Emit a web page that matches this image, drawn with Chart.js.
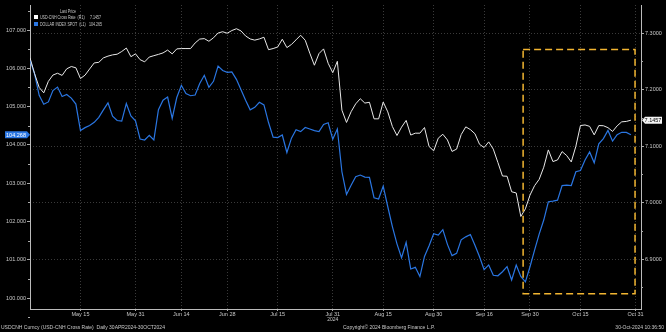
<!DOCTYPE html>
<html>
<head>
<meta charset="utf-8">
<script src="https://cdn.jsdelivr.net/npm/chart.js@4.4.0/dist/chart.umd.min.js"></script>
<style>
  html, body { margin: 0; padding: 0; background: #000; }
</style>
</head>
<body>
<canvas id="chart" width="666" height="332"></canvas>
<script>
// Daily closes, one per business day from 30 Apr 2024 to 30 Oct 2024
const usdCnh = [
  7.2560, 7.2281, 7.2037, 7.1941, 7.2144, 7.2256, 7.2288, 7.2250, 7.2366, 7.2407,
  7.2385, 7.2195, 7.2254, 7.2364, 7.2471, 7.2481, 7.2560, 7.2591, 7.2613, 7.2625,
  7.2673, 7.2734, 7.2581, 7.2631, 7.2528, 7.2490, 7.2575, 7.2599, 7.2622, 7.2648,
  7.2698, 7.2631, 7.2719, 7.2725, 7.2725, 7.2725, 7.2824, 7.2893, 7.2901, 7.2854,
  7.2915, 7.3000, 7.3023, 7.2996, 7.3044, 7.3076, 7.3037, 7.2948, 7.2895, 7.2874,
  7.2895, 7.2925, 7.2705, 7.2725, 7.2753, 7.2890, 7.2742, 7.2798, 7.2879, 7.2961,
  7.2872, 7.2643, 7.2430, 7.2636, 7.2719, 7.2464, 7.2298, 7.2499, 7.1634, 7.1417,
  7.1607, 7.1746, 7.1837, 7.1760, 7.1774, 7.1481, 7.1481, 7.1778, 7.1604, 7.1345,
  7.1186, 7.1334, 7.1453, 7.1194, 7.1227, 7.1227, 7.1327, 7.0991, 7.0915, 7.1139,
  7.1208, 7.1107, 7.0904, 7.0945, 7.1202, 7.1339, 7.1291, 7.1217, 7.1030, 7.0973,
  7.1073, 7.0945, 7.0709, 7.0469, 7.0465, 7.0190, 7.0169, 6.9753, 6.9888, 7.0131,
  7.0298, 7.0410, 7.0625, 7.0931, 7.0725, 7.0753, 7.0901, 7.0831, 7.0718, 7.0996,
  7.1362, 7.1373, 7.1348, 7.1197, 7.1362, 7.1359, 7.1325, 7.1258, 7.1357, 7.1428,
  7.1435, 7.1457
];
const dxy = [
  106.217, 105.856, 105.295, 105.060, 105.122, 105.417, 105.509, 105.263, 105.318, 105.222,
  105.065, 104.373, 104.451, 104.508, 104.589, 104.720, 104.916, 105.099, 104.751, 104.636,
  104.623, 105.083, 104.757, 104.629, 104.153, 104.127, 104.247, 104.127, 104.921, 105.169,
  105.248, 104.694, 105.237, 105.556, 105.339, 105.284, 105.302, 105.603, 105.817, 105.504,
  105.660, 106.060, 105.942, 105.893, 105.908, 105.712, 105.438, 105.167, 104.916, 104.981,
  105.114, 105.044, 104.584, 104.203, 104.190, 104.258, 103.801, 104.177, 104.394, 104.347,
  104.456, 104.414, 104.373, 104.347, 104.535, 104.579, 104.148, 104.417, 103.299, 102.706,
  102.947, 103.171, 103.213, 103.158, 103.153, 102.620, 102.586, 102.923, 102.385, 101.866,
  101.416, 101.053, 101.455, 100.758, 100.803, 100.562, 101.087, 101.367, 101.680, 101.646,
  101.787, 101.403, 101.108, 101.168, 101.521, 101.599, 101.659, 101.380, 101.079, 100.740,
  100.865, 100.596, 100.583, 100.688, 100.823, 100.471, 100.863, 100.565, 100.424, 100.818,
  101.254, 101.672, 102.038, 102.516, 102.534, 102.558, 102.939, 102.952, 102.939, 103.299,
  103.331, 103.605, 103.816, 103.532, 104.028, 104.166, 104.378, 104.098, 104.268, 104.328,
  104.326, 104.265
];
const tickDates = ['2024-05-15', '2024-05-31', '2024-06-14', '2024-06-28', '2024-07-15', '2024-07-31',
                   '2024-08-15', '2024-08-30', '2024-09-16', '2024-09-30', '2024-10-15', '2024-10-31'];
const tickLabels = ['May 15', 'May 31', 'Jun 14', 'Jun 28', 'Jul 15', 'Jul 31',
                    'Aug 15', 'Aug 30', 'Sep 16', 'Sep 30', 'Oct 15', 'Oct 31'];
const leftTicks = [100, 101, 102, 103, 104, 105, 106, 107];
const rightTicks = [6.9, 7.0, 7.1, 7.2, 7.3];
const dxyTag = 104.268;

const FONT = '"Liberation Sans", Arial, sans-serif';
const TXT = '#c8c8c8';
const BLUE = '#2a76e2';

// weekdays counted from the first session (30 Apr 2024)
function businessDayIndex(iso) {
  const d = new Date('2024-04-30T00:00:00Z');
  const end = new Date(iso + 'T00:00:00Z');
  let n = 0;
  while (d < end) {
    const wd = d.getUTCDay();
    if (wd !== 0 && wd !== 6) n++;
    d.setUTCDate(d.getUTCDate() + 1);
  }
  return n;
}

// narrow text, like the terminal's condensed legend font
function narrowText(ctx, text, x, y, align) {
  ctx.save();
  ctx.translate(x, y);
  ctx.scale(0.72, 1);
  ctx.textAlign = align;
  ctx.fillText(text, 0, 0);
  ctx.restore();
}

const overlay = {
  id: 'overlay',
  beforeDraw(chart) {
    const ctx = chart.ctx;
    ctx.save();
    ctx.fillStyle = '#000';
    ctx.fillRect(0, 0, chart.width, chart.height);
    ctx.restore();
  },
  afterDraw(chart) {
    const ctx = chart.ctx;
    const { x, yL, yR } = chart.scales;
    const area = chart.chartArea;
    ctx.save();

    // minor ticks on both value axes
    ctx.strokeStyle = '#aaa';
    ctx.lineWidth = 1;
    ctx.beginPath();
    for (let v = 99.5; v < yL.max; v += 1) {
      const py = Math.round(yL.getPixelForValue(v)) + 0.5;
      ctx.moveTo(area.left - 2, py); ctx.lineTo(area.left, py);
    }
    for (let v = 6.85; v < yR.max; v += 0.1) {
      const py = Math.round(yR.getPixelForValue(v)) + 0.5;
      ctx.moveTo(area.right, py); ctx.lineTo(area.right + 2, py);
    }
    ctx.stroke();

    // highlighted window (late Sep to end of Oct)
    ctx.strokeStyle = '#f2b531';
    ctx.lineWidth = 1.5;
    ctx.setLineDash([7, 4]);
    const bx1 = x.getPixelForValue(107.5), bx2 = x.getPixelForValue(131.9);
    const by1 = yR.getPixelForValue(7.2707), by2 = yR.getPixelForValue(6.8385);
    ctx.strokeRect(bx1, by1, bx2 - bx1, by2 - by1);
    ctx.setLineDash([]);

    // legend
    ctx.font = '5px ' + FONT;
    ctx.textBaseline = 'middle';
    ctx.fillStyle = TXT;
    narrowText(ctx, 'Last Price', 68, 12, 'center');
    ctx.fillStyle = '#fff';
    ctx.fillRect(34, 15, 4, 4);
    ctx.fillStyle = BLUE;
    ctx.fillRect(34, 22, 4, 4);
    ctx.fillStyle = TXT;
    narrowText(ctx, 'USD-CNH Cross Rate  (R1)', 40, 17.5, 'left');
    narrowText(ctx, 'DOLLAR INDEX SPOT  (L1)', 40, 24.5, 'left');
    narrowText(ctx, usdCnh[usdCnh.length - 1].toFixed(4), 101, 17.5, 'right');
    narrowText(ctx, dxy[dxy.length - 1].toFixed(3), 102, 24.5, 'right');

    // last-price tags on the axes
    ctx.font = '5.5px ' + FONT;
    const ly = yL.getPixelForValue(dxyTag);
    ctx.fillStyle = BLUE;
    ctx.beginPath();
    ctx.moveTo(5, ly - 3.5); ctx.lineTo(27, ly - 3.5); ctx.lineTo(30, ly);
    ctx.lineTo(27, ly + 3.5); ctx.lineTo(5, ly + 3.5); ctx.closePath();
    ctx.fill();
    ctx.fillStyle = '#fff';
    ctx.textAlign = 'center';
    ctx.fillText(dxyTag.toFixed(3), 16, ly + 0.5);

    const ry = yR.getPixelForValue(usdCnh[usdCnh.length - 1]);
    ctx.fillStyle = '#f4f4f4';
    ctx.beginPath();
    ctx.moveTo(area.right + 1, ry); ctx.lineTo(area.right + 4, ry - 3.5); ctx.lineTo(662, ry - 3.5);
    ctx.lineTo(662, ry + 3.5); ctx.lineTo(area.right + 4, ry + 3.5); ctx.closePath();
    ctx.fill();
    ctx.fillStyle = '#000';
    ctx.fillText(usdCnh[usdCnh.length - 1].toFixed(4), 653, ry + 0.5);

    // year under the axis and footer line
    ctx.fillStyle = TXT;
    ctx.font = '5px ' + FONT;
    ctx.fillText('2024', x.getPixelForValue(businessDayIndex('2024-07-31')), 320);
    ctx.textAlign = 'left';
    ctx.fillText('USDCNH Curncy (USD-CNH Cross Rate)  Daily 30APR2024-30OCT2024', 1, 328);
    ctx.textAlign = 'center';
    ctx.fillText('Copyright\u00a9 2024 Bloomberg Finance L.P.', 389, 328);
    ctx.textAlign = 'right';
    ctx.fillText('30-Oct-2024 10:36:50', 664, 328);
    ctx.restore();
  }
};

new Chart(document.getElementById('chart'), {
  type: 'line',
  data: {
    datasets: [
      {
        label: 'USD-CNH Cross Rate',
        data: usdCnh.map((v, i) => ({ x: i, y: v })),
        yAxisID: 'yR',
        borderColor: '#e8e8e8',
        borderWidth: 1,
        pointRadius: 0,
        tension: 0
      },
      {
        label: 'DOLLAR INDEX SPOT',
        data: dxy.map((v, i) => ({ x: i, y: v })),
        yAxisID: 'yL',
        borderColor: BLUE,
        borderWidth: 1.2,
        pointRadius: 0,
        tension: 0
      }
    ]
  },
  options: {
    responsive: false,
    animation: false,
    devicePixelRatio: 1,
    layout: { padding: { top: 5, bottom: 10, left: 0, right: 0 } },
    plugins: { legend: { display: false }, tooltip: { enabled: false } },
    scales: {
      x: {
        type: 'linear',
        min: 0,
        max: 133.2,
        afterBuildTicks: s => { s.ticks = tickDates.map(d => ({ value: businessDayIndex(d) })); },
        afterFit: s => { s.height = 13; },
        ticks: {
          callback: (v, i) => tickLabels[i],
          color: TXT,
          font: { family: FONT, size: 5.5 },
          maxRotation: 0,
          autoSkip: false,
          padding: 0
        },
        grid: { color: '#3a3a3a', tickColor: '#aaa', tickLength: 2 },
        border: { color: '#bbb', dash: [1, 2] }
      },
      yL: {
        type: 'linear',
        position: 'left',
        min: 99.715,
        max: 107.653,
        afterBuildTicks: s => { s.ticks = leftTicks.map(v => ({ value: v })); },
        afterFit: s => { s.width = 30; },
        ticks: {
          callback: v => v.toFixed(3),
          color: TXT,
          font: { family: FONT, size: 5.5 },
          padding: 1
        },
        grid: { drawOnChartArea: false, tickColor: '#aaa', tickLength: 3 },
        border: { color: '#bbb' }
      },
      yR: {
        type: 'linear',
        position: 'right',
        min: 6.8115,
        max: 7.3496,
        afterBuildTicks: s => { s.ticks = rightTicks.map(v => ({ value: v })); },
        afterFit: s => { s.width = 25; },
        ticks: {
          callback: v => v.toFixed(4),
          color: TXT,
          font: { family: FONT, size: 5.5 },
          padding: 1
        },
        grid: { color: '#3a3a3a', tickColor: '#aaa', tickLength: 3 },
        border: { color: '#bbb', dash: [1, 2] }
      }
    }
  },
  plugins: [overlay]
});
</script>
</body>
</html>
